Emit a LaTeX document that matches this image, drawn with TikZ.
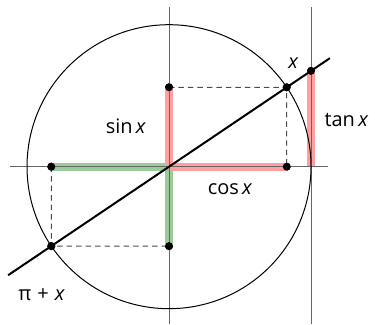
\documentclass[tikz,border=0pt]{standalone}
\usepackage{fontspec}
\setmainfont{Open Sans}
\definecolor{bandred}{HTML}{FFA0A0}
\definecolor{bandgreen}{HTML}{99CC99}
\begin{document}
\begin{tikzpicture}[
  x=1cm, y=1cm,
  axis/.style={draw=black!60, line width=0.6pt},
  unitcircle/.style={draw=black, line width=0.6pt},
  ray/.style={draw=black, line width=1.2pt},
  guide/.style={draw=black!70, dashed, dash pattern=on 3.3pt off 2.4pt, line width=0.6pt},
  redband/.style={draw=bandred, line width=5pt},
  greenband/.style={draw=bandgreen, line width=5pt},
  dot/.style={fill=black, circle, inner sep=0pt, minimum size=4.8pt},
  every node/.style={font=\fontsize{12}{14}\selectfont}
]
\useasboundingbox (-3.571,-3.324) rectangle (4.352,3.522);

\coordinate (o) at (0,0);
\coordinate (xl) at (-3.36,0);
\coordinate (xr) at (3.36,0);
\coordinate (yt) at (0,3.37);
\coordinate (yb) at (0,-3.324);
\coordinate (tt) at (3,3.37);
\coordinate (tb) at (3,-3.324);
\coordinate (t0) at (3,0);
\coordinate (rayb) at (214:4.1);
\coordinate (rayt) at (34:4.1);

\node[dot] (p) at (34:3) {};
\node[dot] (q) at (214:3) {};
\node[dot] (s) at (0,1.678) {};
\node[dot] (c) at (2.487,0) {};
\node[dot] (ms) at (0,-1.678) {};
\node[dot] (mc) at (-2.487,0) {};
\node[dot] (t) at (3,2.024) {};

\draw[greenband] (mc.center) -- (o);
\draw[greenband] (o) -- (ms.center);
\draw[redband] (s.center) -- (o);
\draw[redband] (o) -- (c.center);
\draw[redband] (t0) -- (t.center);

\draw[axis] (xl) -- (xr);
\draw[axis] (yt) -- (yb);
\draw[axis] (tt) -- (tb);
\draw[unitcircle] (o) circle (3);
\draw[guide] (s.center) -- (p.center) -- (c.center);
\draw[guide] (mc.center) -- (q.center) -- (ms.center);
\draw[ray] (rayb) -- (rayt);

\node[dot] at (p) {};
\node[dot] at (q) {};
\node[dot] at (s) {};
\node[dot] at (c) {};
\node[dot] at (ms) {};
\node[dot] at (mc) {};
\node[dot] at (t) {};

\node (xlabel) at (2.63,2.18) {\textit{x}};
\node (tanlabel) at (3.75,0.99) {tan\,\textit{x}};
\node (sinlabel) at (-0.91,0.86) {sin\,\textit{x}};
\node (coslabel) at (1.29,-0.48) {cos\,\textit{x}};
\node (pilabel) at (-2.69,-2.71) {π\hspace{0.3em}+\hspace{0.3em}\textit{x}};
\end{tikzpicture}
\end{document}
